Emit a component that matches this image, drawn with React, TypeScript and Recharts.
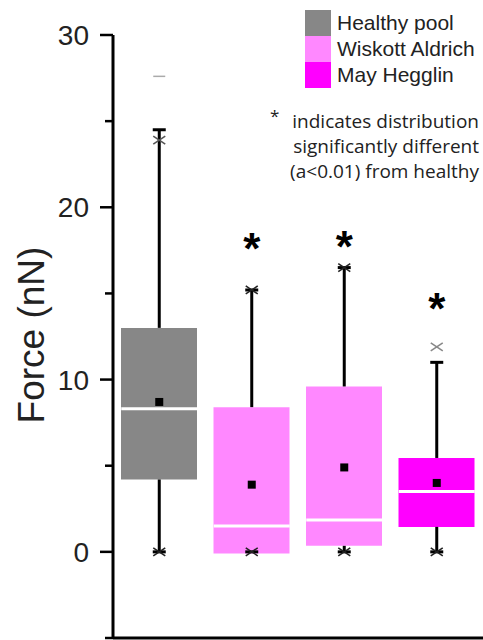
import {
  Bar,
  Cell,
  ComposedChart,
  Legend,
  ReferenceLine,
  Scatter,
  XAxis,
  YAxis,
} from 'recharts';

const GROUPS = ['Healthy pool', 'Wiskott Aldrich A', 'Wiskott Aldrich B', 'May Hegglin'];
const BOX_COLORS = ['#878787', '#ff88ff', '#ff88ff', '#ff00ff'];
const Q1 = [4.2, -0.1, 0.35, 1.45];
const Q3 = [13.0, 8.4, 9.6, 5.45];
const MEDIAN = [8.3, 1.5, 1.85, 3.5];
const MEAN = [8.7, 3.9, 4.9, 4.0];
const WHISKER_LOW = [0, 0, 0, 0];
const WHISKER_HIGH = [24.5, 15.2, 16.5, 11.0];
const MARK_LOW = [0, 0, 0, 0];
const MARK_HIGH = [23.9, 15.2, 16.5, 11.9];
const MARK_HIGH_COLORS = ['#555555', '#222222', '#222222', '#888888'];
const MAX_DASH = [27.6, null, null, null];
const STAR = [null, 18.1, 18.2, 14.6];
const Y_TICKS = [-5, 0, 5, 10, 15, 20, 25, 30];

const LEGEND_NAMES = ['Healthy pool', 'Wiskott Aldrich', 'May Hegglin'];
const LEGEND_COLORS = ['#878787', '#ff88ff', '#ff00ff'];
const NOTE_LINES = [
  'indicates distribution',
  'significantly different',
  '(a<0.01) from healthy',
];

const data = GROUPS.map((name, i) => ({
  name,
  box: [Q1[i], Q3[i]],
  median: MEDIAN[i],
  mean: MEAN[i],
  low: WHISKER_LOW[i],
  high: WHISKER_HIGH[i],
  markLow: MARK_LOW[i],
  markHigh: MARK_HIGH[i],
  markColor: MARK_HIGH_COLORS[i],
  dash: MAX_DASH[i],
  star: STAR[i],
}));

const FONT = '"Liberation Sans", Arial, sans-serif';

const ForceTick = ({ x, y, payload }: any) => {
  const major = payload.value % 10 === 0;
  return (
    <g>
      <line x1={x - (major ? 13 : 8)} x2={x} y1={y} y2={y} stroke="#000" strokeWidth={2.5} />
      {major && (
        <text x={x - 24} y={y} dy="0.36em" textAnchor="end" fontSize={28} fill="#222" fontFamily={FONT}>
          {payload.value}
        </text>
      )}
    </g>
  );
};

const MedianLine = ({ cx, cy }: any) => (
  <line x1={cx - 38} x2={cx + 38} y1={cy} y2={cy} stroke="#fff" strokeWidth={3} />
);

const MeanSquare = ({ cx, cy }: any) => (
  <rect x={cx - 4} y={cy - 4} width={8} height={8} fill="#000" />
);

const Cap = ({ cx, cy }: any) => (
  <line x1={cx - 6.5} x2={cx + 6.5} y1={cy} y2={cy} stroke="#000" strokeWidth={3} />
);

const Cross = ({ cx, cy, color }: any) => (
  <g stroke={color} strokeWidth={1.5}>
    <line x1={cx - 6} y1={cy - 4} x2={cx + 6} y2={cy + 4} />
    <line x1={cx - 6} y1={cy + 4} x2={cx + 6} y2={cy - 4} />
  </g>
);

const Dash = ({ cx, cy, payload }: any) =>
  payload.dash == null ? <g /> : (
    <line x1={cx - 6} x2={cx + 6} y1={cy} y2={cy} stroke="#aaa" strokeWidth={1.5} />
  );

const Star = ({ cx, cy, payload }: any) =>
  payload.star == null ? <g /> : (
    <text x={cx} y={cy + 24} textAnchor="middle" fontSize={44} fontWeight="bold" fill="#000" fontFamily={FONT}>
      *
    </text>
  );

const LegendBox = () => (
  <div style={{ position: 'relative', width: 223, height: 190, fontFamily: FONT, color: '#222' }}>
    {LEGEND_NAMES.map((name, i) => (
      <div key={name}>
        <div
          style={{
            position: 'absolute',
            left: 45,
            top: 10 + i * 26,
            width: 26,
            height: 26,
            background: LEGEND_COLORS[i],
          }}
        />
        <div
          style={{
            position: 'absolute',
            left: 77,
            top: 10 + i * 26,
            height: 26,
            lineHeight: '26px',
            fontSize: 21,
            whiteSpace: 'nowrap',
          }}
        >
          {name}
        </div>
      </div>
    ))}
    <div
      style={{
        position: 'absolute',
        left: 10,
        top: 104,
        fontSize: 17,
        fontFamily: '"Open Sans", sans-serif',
      }}
    >
      *
    </div>
    {NOTE_LINES.map((line, i) => (
      <div
        key={line}
        style={{
          position: 'absolute',
          right: 4,
          top: 109 + i * 25,
          height: 25,
          lineHeight: '25px',
          fontSize: 19,
          fontFamily: '"Open Sans", sans-serif',
          whiteSpace: 'nowrap',
        }}
      >
        {line}
      </div>
    ))}
  </div>
);

export default function App() {
  return (
    <div style={{ position: 'absolute', left: 0, top: 0, background: '#fff' }}>
      <ComposedChart
        width={483}
        height={640}
        data={data}
        margin={{ top: 35, right: 0, bottom: 0, left: 0 }}
      >
        <XAxis
          dataKey="name"
          tick={false}
          tickLine={false}
          height={2}
          axisLine={{ stroke: '#000', strokeWidth: 3 }}
        />
        <YAxis
          width={113}
          domain={[-5, 30]}
          ticks={Y_TICKS}
          interval={0}
          tickSize={0}
          tickMargin={0}
          tickLine={false}
          tick={<ForceTick />}
          axisLine={{ stroke: '#000', strokeWidth: 3 }}
          label={{
            content: () => (
              <text
                x={31}
                y={335}
                transform="rotate(-90 31 335)"
                textAnchor="middle"
                dominantBaseline="central"
                fontSize={37}
                fill="#222"
                fontFamily={FONT}
              >
                Force (nN)
              </text>
            ),
          }}
        />
        <Legend
          layout="vertical"
          align="center"
          verticalAlign="middle"
          wrapperStyle={{ left: 260, top: 0, width: 223 }}
          content={() => <LegendBox />}
        />
        {GROUPS.map((name, i) => (
          <ReferenceLine
            key={`hi-${name}`}
            segment={[{ x: name, y: Q3[i] }, { x: name, y: WHISKER_HIGH[i] }]}
            stroke="#000"
            strokeWidth={3}
          />
        ))}
        {GROUPS.map((name, i) =>
          Q1[i] > WHISKER_LOW[i] ? (
            <ReferenceLine
              key={`lo-${name}`}
              segment={[{ x: name, y: WHISKER_LOW[i] }, { x: name, y: Q1[i] }]}
              stroke="#000"
              strokeWidth={3}
            />
          ) : null
        )}
        <Bar dataKey="box" barSize={76} isAnimationActive={false}>
          {data.map((d, i) => (
            <Cell key={d.name} fill={BOX_COLORS[i]} />
          ))}
        </Bar>
        <Scatter dataKey="median" shape={<MedianLine />} isAnimationActive={false} />
        <Scatter dataKey="mean" shape={<MeanSquare />} isAnimationActive={false} />
        <Scatter dataKey="high" shape={<Cap />} isAnimationActive={false} />
        <Scatter dataKey="low" shape={<Cap />} isAnimationActive={false} />
        <Scatter
          dataKey="markHigh"
          shape={(p: any) => <Cross {...p} color={p.payload.markColor} />}
          isAnimationActive={false}
        />
        <Scatter
          dataKey="markLow"
          shape={(p: any) => <Cross {...p} color="#222" />}
          isAnimationActive={false}
        />
        <Scatter dataKey="dash" shape={<Dash />} isAnimationActive={false} />
        <Scatter dataKey="star" shape={<Star />} isAnimationActive={false} />
      </ComposedChart>
    </div>
  );
}
